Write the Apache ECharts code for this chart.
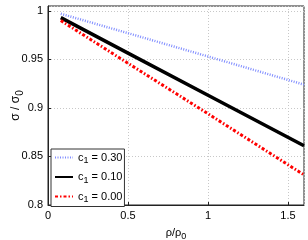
<!DOCTYPE html>
<html><head><meta charset="utf-8">
<script src="https://cdn.jsdelivr.net/npm/echarts@6/dist/echarts.min.js"></script>
<style>html,body{margin:0;padding:0;background:#fff}#c{width:308px;height:240px}</style>
</head><body><div id="c"></div>
<script>
var xs = [0.08, 0.5, 1.0, 1.6];
var c030 = [0.997, 0.977, 0.953, 0.924];
var c010 = [0.993, 0.9565, 0.913, 0.861];
var c000 = [0.990, 0.946, 0.894, 0.831];
var seriesNames = ['c1 = 0.30', 'c1 = 0.10', 'c1 = 0.00'];
var legendValues = ['0.30', '0.10', '0.00'];
var xTicks = [0, 0.5, 1, 1.5];
var yTicks = [0.8, 0.85, 0.9, 0.95, 1];

function pairs(ys){ return xs.map(function(x,i){ return [x, ys[i]]; }); }
var font = 'Liberation Sans, Arial, sans-serif';
var chart = echarts.init(document.getElementById('c'), null, {renderer:'canvas'});
chart.setOption({
  animation:false,
  backgroundColor:'#fff',
  grid:{left:48, right:4, top:6, bottom:35, containLabel:false, outerBoundsMode:'none',
    show:true, borderColor:'#222', borderWidth:1, backgroundColor:'transparent'},
  xAxis:{type:'value', min:0, max:1.6, interval:0.5,
    axisLine:{show:true, lineStyle:{color:'#222'}},
    axisTick:{inside:true, length:3, lineStyle:{color:'#222'}},
    axisLabel:{color:'#000', fontFamily:font, fontSize:11, margin:5, showMaxLabel:false, hideOverlap:false,
      formatter:function(v){ return xTicks.indexOf(+v.toFixed(2))>=0 ? String(+v.toFixed(2)) : ''; }},
    splitLine:{show:true, lineStyle:{color:'#c8c8c8', type:[1,2]}},
    name:'{n|ρ/ρ}{s|0}', nameLocation:'middle', nameGap:19, nameMoveOverlap:false,
    nameTextStyle:{color:'#000', fontFamily:font, fontSize:11,
      rich:{n:{fontSize:11, fontFamily:font, color:'#000'}, s:{fontSize:9, fontFamily:font, color:'#000', padding:[8,0,0,0]}}}
  },
  yAxis:{type:'value', min:0.8, max:1.005, interval:0.05,
    axisLine:{show:true, lineStyle:{color:'#222'}},
    axisTick:{inside:true, length:3, lineStyle:{color:'#222'}},
    axisLabel:{color:'#000', fontFamily:font, fontSize:11, margin:5, showMaxLabel:false, hideOverlap:false,
      formatter:function(v){ var r=+v.toFixed(3); return yTicks.indexOf(r)>=0 ? String(r) : ''; }},
    splitLine:{show:true, lineStyle:{color:'#c8c8c8', type:[1,2]}},
    name:'{n|σ / σ}{s|0}', nameLocation:'middle', nameRotate:90, nameGap:23, nameMoveOverlap:false,
    nameTextStyle:{color:'#000', fontFamily:font, fontSize:12,
      rich:{n:{fontSize:12, fontFamily:font, color:'#000'}, s:{fontSize:10, fontFamily:font, color:'#000', padding:[8,0,0,0]}}}
  },
  legend:{orient:'vertical', left:51, top:149, itemWidth:18, itemHeight:10, itemGap:6,
    backgroundColor:'#fff', borderColor:'#333', borderWidth:1, padding:[3,2,2,3],
    itemStyle:{opacity:0},
    data:seriesNames,
    formatter:function(name){ var i=seriesNames.indexOf(name); return '{n|c}{s|1}{n| = '+legendValues[i]+'}'; },
    textStyle:{color:'#000', fontFamily:font, fontSize:11,
      rich:{n:{fontSize:11, fontFamily:font, color:'#000'}, s:{fontSize:9, fontFamily:font, color:'#000', padding:[7,0,0,0]}}}
  },
  series:[
    {name:seriesNames[0], type:'line', data:pairs(c030), symbol:'none', z:3,
      lineStyle:{color:'#7f8cff', width:2.5, type:[1,1.5]}, itemStyle:{color:'#7f8cff'}},
    {name:seriesNames[1], type:'line', data:pairs(c010), symbol:'none', z:4,
      lineStyle:{color:'#000', width:3.5, type:'solid'}, itemStyle:{color:'#000'}},
    {name:seriesNames[2], type:'line', data:pairs(c000), symbol:'none', z:5,
      lineStyle:{color:'#ff0000', width:3, type:[3,2,1.5,2]}, itemStyle:{color:'#ff0000'}}
  ]
});
</script></body></html>
